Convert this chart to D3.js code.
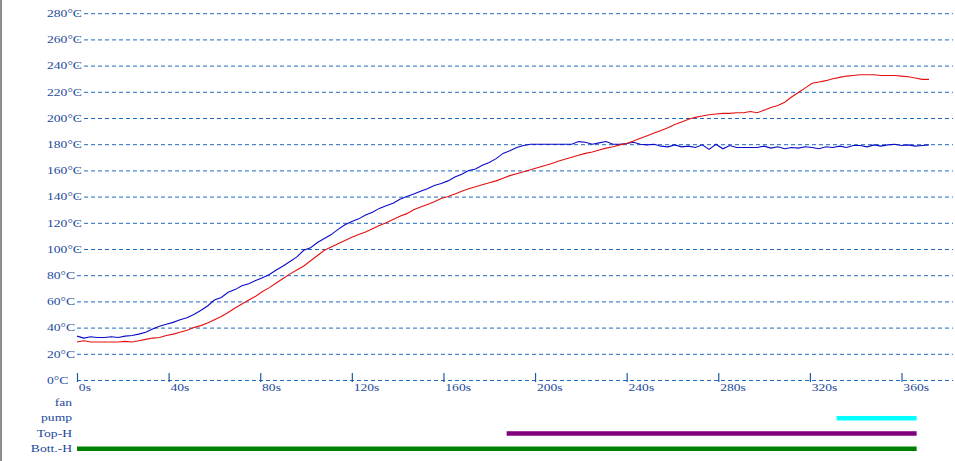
<!DOCTYPE html>
<html>
<head>
<meta charset="utf-8">
<script src="https://cdn.jsdelivr.net/npm/d3@7"></script>
<style>
  html, body { margin: 0; padding: 0; background: #fff; }
  svg { display: block; }
</style>
</head>
<body>
<svg id="chart" width="955" height="461"></svg>
<script>
// ---- data ----
const timeTicks = [0, 40, 80, 120, 160, 200, 240, 280, 320, 360];
const tempTicks = [0, 20, 40, 60, 80, 100, 120, 140, 160, 180, 200, 220, 240, 260, 280];

const blueTimes = [0,3,6,9,12,15,18,21,24,27,30,33,36,39,42,45,48,51,54,57,60,63,66,69,72,75,78,81,84,87,90,93,96,99,102,105,108,111,114,117,120,123,126,129,132,135,138,141,144,147,150,153,156,159,162,165,168,171,174,177,180,183,186,189,192,195,198,201,204,207,210,213,216,219,222,225,228,231,234,237,240,243,246,249,252,255,258,261,264,267,270,273,276,279,282,285,288,291,294,297,300,303,306,309,312,315,318,321,324,327,330,333,336,339,342,345,348,351,354,357,360,363,366,369,372];
const blueTemps = [33.5,32,33,32.5,32.5,33,32.5,33.5,34,35,36.5,39,41,42.5,44,46,47.5,50,53,56.5,61,63,67,69,72,73.5,76,78,80.5,84,87,90.5,94,99,101,105,108,111,115,118.5,121,123,126,128,131,133,135,138,140,142,144,146,148.5,150,152,155,157,160,161,164,166,169,173,175,177.5,179,180,180,180,180,180,180,180,182,181.5,180,181,182,180,180,180.5,181.5,180,179.5,180,178.5,178,179.5,178,178.5,177.5,179.5,176,180,176.5,179,177.5,177.5,177.5,177.5,178.5,177,178,176.5,177.5,177,178,177.5,176.5,178,177.5,178.5,177.5,179,179,178,179.5,178.5,179.5,180,179,179.5,178.5,179,179.5];

const redTimes = blueTimes;
const redTemps = [29,30,29,29,29,29,29,29.5,29,30,31,32,32.5,34,35,36.5,38,40,41.5,43.5,46,48.5,51.5,55,58,61,64,67.5,70.5,74,77.5,81,84,87,91,95,99,101.5,104,106.5,109,111,113,115.5,118,120,122.5,125,127,130,132,134,136,138.5,140,142,144,146,147.5,149,150.5,152,154,156,157.5,159,160.5,162,163.5,165,167,168.5,170,171.5,173,174,175.5,177,178,179.5,180.5,182.5,184.5,186.5,188.5,190.5,192.5,195,197,199,200.5,201.5,202.5,203,203.5,203.5,204,204,205,204,206,208,209.5,212,216,219.5,223,226.5,227.5,228.5,230,231,232,232.5,233,233,233,232.5,232.5,232.5,232,231.5,230.5,229.5,229.5];

const rowLabels = ["fan", "pump", "Top-H", "Bott.-H"];
const rowStart = [null, 331.7, 187.6, 0];
const rowEnd   = [null, 366.6, 366.6, 366.6];
const rowColors = ["#000000", "#00ffff", "#800080", "#008000"];

// ---- drawing ----
const svg = d3.select("#chart");
const textColor = "#1c4a9c";
const gridColor = "#1f68c0";
const fontFam = "'Liberation Serif', 'DejaVu Serif', serif";
const stretch = 1.36;

const x = d3.scaleLinear().domain([0, 360]).range([77, 901.5]);
const y = d3.scaleLinear().domain([0, 280]).range([380, 13.2]);
const rowY = d3.scalePoint().domain(rowLabels).range([402.7, 448.5]);

// left border
svg.append("rect").attr("x", 0).attr("y", 0).attr("width", 2).attr("height", 461).attr("fill", "#8c8c8c");

// gridlines
const grid = svg.append("g").attr("transform", "translate(77,0)")
  .call(d3.axisLeft(y).tickValues(tempTicks).tickSize(-(953 - 77)).tickFormat(""));
grid.select(".domain").remove();
grid.selectAll("line").attr("stroke", gridColor).attr("stroke-width", 1).attr("stroke-dasharray", "4,3");

// y labels
const yl = svg.append("g").attr("transform", "translate(47,0)")
  .call(d3.axisRight(y).tickValues(tempTicks).tickSize(0).tickPadding(0).tickFormat(d => d + "°C"));
yl.select(".domain").remove();
yl.selectAll("text")
  .attr("x", 0).attr("text-anchor", "start")
  .attr("transform", `scale(${stretch},1)`)
  .attr("fill", textColor)
  .style("font-family", fontFam).style("font-size", "10px")
  .style("stroke", "#fff").style("stroke-width", 3).style("paint-order", "stroke");

// x axis ticks
const xa = svg.append("g").attr("transform", "translate(0,373)")
  .call(d3.axisBottom(x).tickValues(timeTicks).tickSize(9).tickPadding(0).tickFormat(d => d + "s"));
xa.select(".domain").remove();
xa.selectAll("line").attr("stroke", "#1f5a9c").attr("stroke-width", 1.2);
xa.selectAll("text")
  .attr("y", 18).attr("dy", null).attr("x", 1)
  .attr("text-anchor", "start")
  .attr("transform", `scale(${stretch},1)`)
  .attr("fill", textColor)
  .style("font-family", fontFam).style("font-size", "10px");

// lines
const blue = blueTimes.map((t, i) => [t, blueTemps[i]]);
const red = redTimes.map((t, i) => [t, redTemps[i]]);
const line = d3.line().x(d => x(d[0])).y(d => y(d[1]));
svg.append("path").datum(blue).attr("d", line).attr("fill", "none").attr("stroke", "#0a0ac8").attr("stroke-width", 1.1);
svg.append("path").datum(red).attr("d", line).attr("fill", "none").attr("stroke", "#e41010").attr("stroke-width", 1.1);

// rows
const rows = svg.append("g");
rowLabels.forEach((lab, i) => {
  const g = rows.append("g").attr("transform", `translate(72,${rowY(lab)})`);
  g.append("text").text(lab)
    .attr("text-anchor", "end").attr("dy", "0.35em")
    .attr("transform", `scale(${stretch},1)`)
    .attr("fill", textColor)
    .style("font-family", fontFam).style("font-size", "10px");
  if (rowStart[i] !== null) {
    rows.append("rect")
      .attr("x", x(rowStart[i])).attr("width", x(rowEnd[i]) - x(rowStart[i]))
      .attr("y", rowY(lab) - 2).attr("height", 4.5)
      .attr("fill", rowColors[i]);
  }
});
</script>
</body>
</html>
